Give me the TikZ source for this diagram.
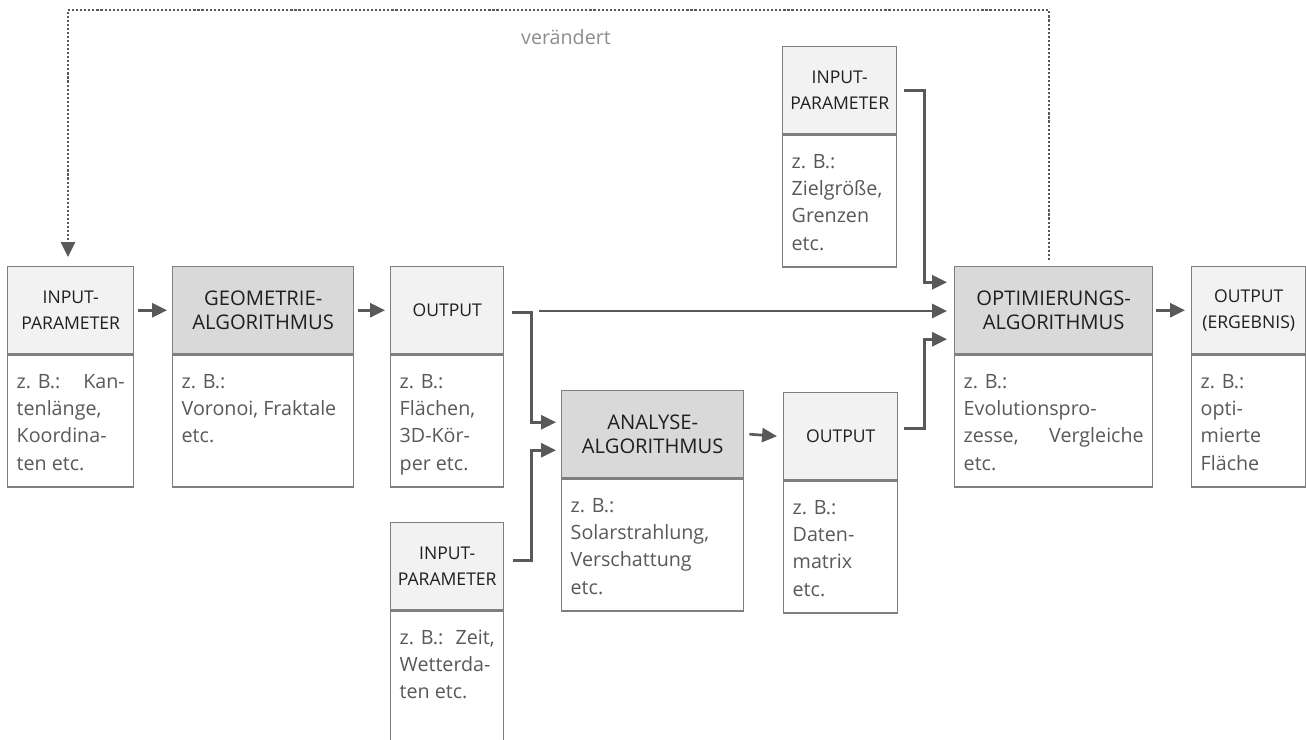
\documentclass[tikz,border=0pt]{standalone}
\usepackage{fontspec}
\setmainfont{Open Sans}
\usetikzlibrary{positioning,arrows.meta}

\newlength\pxu
\setlength\pxu{0.02cm}
\definecolor{lightfill}{HTML}{F2F2F2}
\definecolor{darkfill}{HTML}{D9D9D9}
\definecolor{framegray}{HTML}{7F7F7F}
\definecolor{arrowgray}{HTML}{595959}
\definecolor{bodygray}{HTML}{595959}
\definecolor{headtext}{HTML}{1F1F1F}
\definecolor{notegray}{HTML}{8C8C8C}

% text of the lower part of a box
\newcommand{\boxbody}[2]{\parbox[t][132\pxu][t]{#1\pxu}{\hyphenpenalty=10000\rule{0pt}{33\pxu}#2}}

\begin{document}
\begin{tikzpicture}[x=0.02cm, y=-0.02cm,
    hdr/.style={draw=framegray, line width=0.8pt, fill=lightfill, anchor=north west,
        minimum height=87\pxu, inner sep=0pt, align=center, text=headtext,
        font=\fontsize{10}{14.8}\selectfont},
    alghdr/.style={hdr, fill=darkfill, font=\fontsize{11.5}{14}\selectfont},
    body/.style={draw=framegray, line width=0.8pt, fill=white, below=0pt of #1,
        inner xsep=9\pxu, inner ysep=0pt, text=bodygray,
        font=\fontsize{11.2}{15.6}\selectfont},
    arr/.style={line width=1.5pt, draw=arrowgray, -{Triangle[length=8.5pt,width=8pt]}},
    fb/.style={arr, line width=1.3pt, dash pattern=on 1.2pt off 1.1pt}]
    \useasboundingbox (0,0) rectangle (1306,740);

    % boxes
    \node[hdr, minimum width=126\pxu] (in1h) at (7,266) {INPUT-\\PARAMETER};
    \node[body=in1h] (in1b) {\boxbody{108}{z. B.:\hfill Kan-\\tenlänge,\\Koordina-\\ten etc.}};
    \node[alghdr, minimum width=181\pxu] (geoh) at (172,266) {GEOMETRIE-\\ALGORITHMUS};
    \node[body=geoh] (geob) {\boxbody{163}{z. B.:\\\mbox{Voronoi, Fraktale}\\etc.}};
    \node[hdr, minimum width=113\pxu] (out1h) at (390,266) {OUTPUT};
    \node[body=out1h] (out1b) {\boxbody{95}{z. B.:\\Flächen,\\3D-Kör-\\per etc.}};
    \node[alghdr, minimum width=182\pxu] (anah) at (561,390) {ANALYSE-\\ALGORITHMUS};
    \node[body=anah] (anab) {\boxbody{164}{z. B.:\\Solarstrahlung,\\Verschattung\\etc.}};
    \node[hdr, minimum width=113\pxu] (in2h) at (390,522) {INPUT-\\PARAMETER};
    \node[body=in2h] (in2b) {\boxbody{95}{z. B.:\hfill Zeit,\\Wetterda-\\ten etc.}};
    \node[hdr, minimum width=114\pxu] (out2h) at (783,392) {OUTPUT};
    \node[body=out2h] (out2b) {\boxbody{96}{z. B.:\\Daten-\\matrix\\etc.}};
    \node[hdr, minimum width=114\pxu] (in3h) at (782,46) {INPUT-\\PARAMETER};
    \node[body=in3h] (in3b) {\boxbody{96}{z. B.:\\Zielgröße,\\Grenzen\\etc.}};
    \node[alghdr, minimum width=198\pxu] (opth) at (954,266) {OPTIMIERUNGS-\\ALGORITHMUS};
    \node[body=opth] (optb) {\boxbody{180}{z. B.:\\Evolutionspro-\\\hbox to 180\pxu{zesse,\hfill Vergleiche}\\etc.}};
    \node[hdr, minimum width=114\pxu] (resh) at (1191,266) {OUTPUT\\(ERGEBNIS)};
    \node[body=resh] (resb) {\boxbody{96}{z. B.:\\opti-\\mierte\\Fläche}};

    \node[text=notegray, font=\fontsize{11.2}{14}\selectfont] (chg) at (566,37) {verändert};
    \coordinate (fbcorner) at (68,10);
    \coordinate (lstart) at (539,311);

    % connectors
    \draw[arr] ([xshift=4\pxu]in1h.east) -- ([xshift=-5\pxu]geoh.west);
    \draw[arr] ([xshift=4\pxu]geoh.east) -- ([xshift=-5\pxu]out1h.west);
    \draw[arr] ([xshift=8\pxu,yshift=-2\pxu]out1h.east) -- ++(19,0)
        |- ([xshift=-5\pxu,yshift=12\pxu]anah.west);
    \draw[arr] ([xshift=9\pxu,yshift=6\pxu]in2h.east) -- ++(18,0)
        |- ([xshift=-5\pxu,yshift=-16\pxu]anah.west);
    \draw[arr] ([xshift=5\pxu]anah.east) -- ([xshift=-6\pxu]out2h.west);
    \draw[arr] (lstart) -- ([xshift=-7\pxu]opth.west |- lstart);
    \draw[arr] ([xshift=7\pxu]in3h.east) -- ++(20,0)
        |- ([xshift=-7\pxu,yshift=28\pxu]opth.west);
    \draw[arr] ([xshift=6\pxu,yshift=8\pxu]out2h.east) -- ++(20,0)
        |- ([xshift=-7\pxu,yshift=-29\pxu]opth.west);
    \draw[arr] ([xshift=3\pxu]opth.east) -- ([xshift=-6\pxu]resh.west);
    \draw[fb] ([xshift=-5\pxu,yshift=6\pxu]opth.north) |- (fbcorner)
        -- ([yshift=9\pxu]fbcorner |- in1h.north);
\end{tikzpicture}
\end{document}
